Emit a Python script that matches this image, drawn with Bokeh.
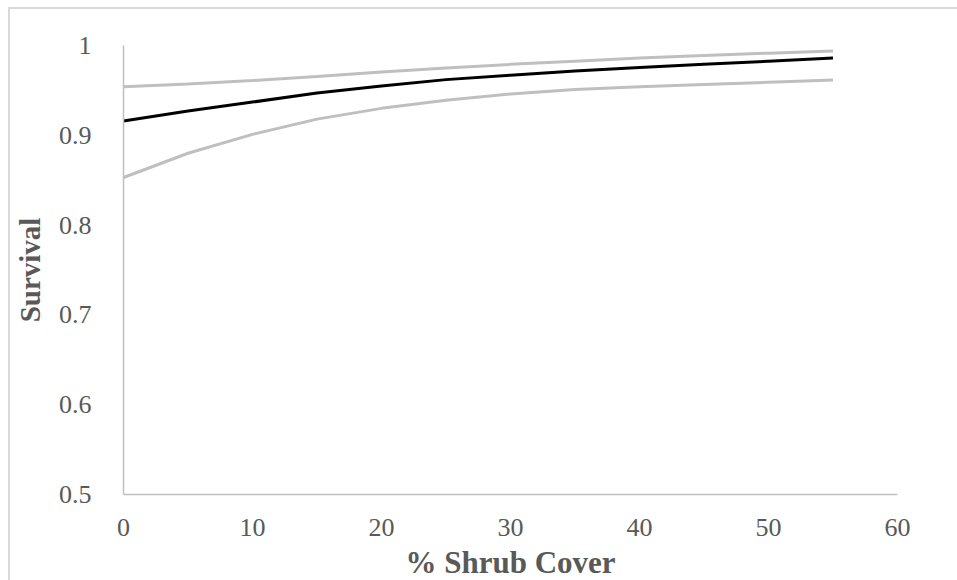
from bokeh.plotting import figure
from bokeh.models import FixedTicker, Range1d
from bokeh.embed import file_html
from bokeh.resources import INLINE

# ---- data ----
shrub_cover = [0, 5, 10, 15, 20, 25, 30, 35, 40, 45, 50, 55]
survival = [0.916, 0.927, 0.937, 0.947, 0.955, 0.962, 0.967, 0.9715, 0.9755, 0.979, 0.9825, 0.986]
upper_ci = [0.954, 0.957, 0.961, 0.9655, 0.9705, 0.975, 0.979, 0.9825, 0.986, 0.989, 0.9915, 0.994]
lower_ci = [0.853, 0.880, 0.901, 0.918, 0.930, 0.939, 0.946, 0.951, 0.954, 0.9565, 0.959, 0.9615]

x_ticks = [0, 10, 20, 30, 40, 50, 60]
y_ticks = [0.5, 0.6, 0.7, 0.8, 0.9, 1.0]
y_tick_labels = ["0.5", "0.6", "0.7", "0.8", "0.9", "1"]

FONT = "Liberation Serif"
TXT = "#595959"
GRAY = "#BFBFBF"

p = figure(width=949, height=573, output_backend="svg", toolbar_location=None,
           x_range=Range1d(0, 60), y_range=Range1d(0.5, 1.0),
           min_border_left=113, min_border_right=62, min_border_top=36, min_border_bottom=80,
           margin=(7, 0, 0, 8),
           styles={"border-left": "2px solid #d9d9d9", "border-top": "2px solid #d9d9d9"})

p.outline_line_color = None
p.xgrid.grid_line_color = None
p.ygrid.grid_line_color = None
p.background_fill_color = "white"
p.border_fill_color = "white"

p.line(shrub_cover, upper_ci, line_color=GRAY, line_width=3)
p.line(shrub_cover, lower_ci, line_color=GRAY, line_width=3)
p.line(shrub_cover, survival, line_color="black", line_width=3)

for ax in (p.xaxis[0], p.yaxis[0]):
    ax.axis_line_color = GRAY
    ax.axis_line_width = 1.5
    ax.major_tick_line_color = None
    ax.minor_tick_line_color = None
    ax.major_label_text_font = FONT
    ax.major_label_text_color = TXT
    ax.major_label_text_font_size = "26px"
    ax.axis_label_text_font = FONT
    ax.axis_label_text_color = TXT
    ax.axis_label_text_font_style = "bold"

p.xaxis[0].axis_label_text_font_size = "31px"
p.yaxis[0].axis_label_text_font_size = "29px"

p.xaxis[0].ticker = FixedTicker(ticks=x_ticks)
p.yaxis[0].ticker = FixedTicker(ticks=y_ticks)
p.yaxis[0].major_label_overrides = {v: s for v, s in zip(y_ticks, y_tick_labels)}

p.xaxis[0].axis_label = "% Shrub Cover"
p.yaxis[0].axis_label = "Survival"
p.xaxis[0].major_label_standoff = 18
p.yaxis[0].major_label_standoff = 26
p.xaxis[0].axis_label_standoff = 6
p.yaxis[0].axis_label_standoff = 10

open("out.html", "w").write(file_html(p, INLINE))
